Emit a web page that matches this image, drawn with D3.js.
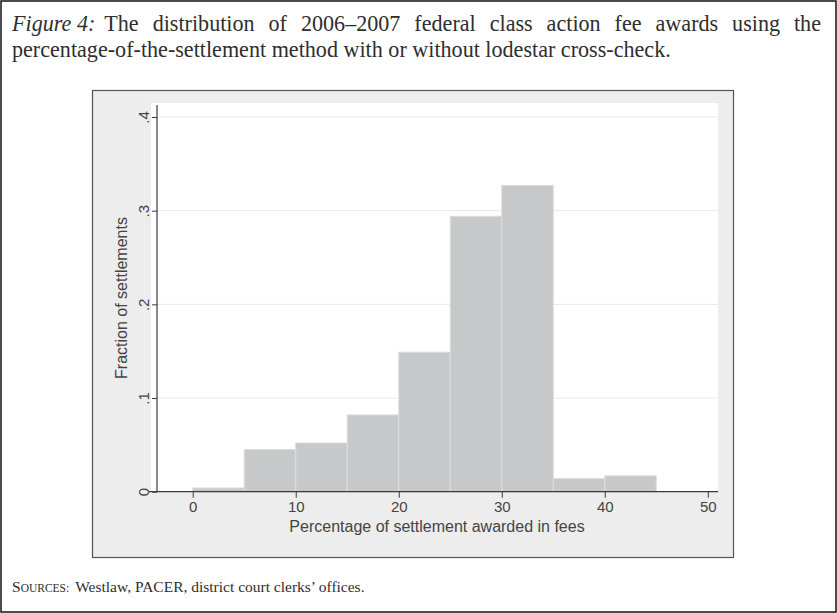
<!doctype html>
<html lang="en">
<head>
<meta charset="utf-8">
<script src="https://d3js.org/d3.v7.min.js"></script>
<title>Figure 4</title>
<style>
    body { margin: 0; background: white; }
    svg { display: block; }
</style>
</head>
<body>
<svg id="svg" width="837" height="613"></svg>
<script>
    // histogram: bins of 5 percentage points, fraction of settlements in each
    let binStarts = [0, 5, 10, 15, 20, 25, 30, 35, 40];
    let binWidth = 5;
    let fractions = [0.004, 0.045, 0.052, 0.082, 0.149, 0.294, 0.327, 0.014, 0.017];
    let xTicks = [0, 10, 20, 30, 40, 50];
    let yTicks = [0, 0.1, 0.2, 0.3, 0.4];

    let titleLead = "Figure 4:";
    let titleLine1 = "The distribution of 2006\u20132007 federal class action fee awards using the";
    let titleLine2 = "percentage-of-the-settlement method with or without lodestar cross-check.";
    let xTitle = "Percentage of settlement awarded in fees";
    let yTitle = "Fraction of settlements";
    let sourcesText = "Westlaw, PACER, district court clerks\u2019 offices.";

    let svg = d3.select("#svg");
    let serif = "'Liberation Serif', 'Times New Roman', serif";
    let sans = "'Liberation Sans', Arial, Helvetica, sans-serif";
    let ink = "#2e2e2e";

    // outer page frame
    svg.append("rect")
        .attr("x", 1).attr("y", 1).attr("width", 835).attr("height", 611)
        .attr("fill", "white").attr("stroke", "#111").attr("stroke-width", 1.5);

    // ---- caption (fit font size to line 2, justify line 1)
    let left = 12, right = 812;
    let probe = svg.append("text").attr("font-family", serif).attr("font-size", 20).text(titleLine2);
    let fs = 20 * 659 / probe.node().getComputedTextLength();
    probe.remove();

    let t1 = svg.append("text")
        .attr("x", left).attr("y", 31)
        .attr("font-family", serif).attr("font-size", fs).attr("fill", ink);
    t1.append("tspan").attr("font-style", "italic").text(titleLead);
    let rest = t1.append("tspan").attr("dx", 9).text(titleLine1);
    let natural = t1.node().getComputedTextLength();
    let nSpaces = titleLine1.split(" ").length - 1;
    rest.style("word-spacing", ((right - left - natural) / nSpaces) + "px");

    svg.append("text")
        .attr("x", left).attr("y", 57)
        .attr("font-family", serif).attr("font-size", fs).attr("fill", ink)
        .text(titleLine2);

    // ---- graph region (Stata style)
    svg.append("rect")
        .attr("x", 92.5).attr("y", 90.5).attr("width", 641).attr("height", 467)
        .attr("fill", "#ededed").attr("stroke", "#555").attr("stroke-width", 1.2);

    let plot = { left: 151, right: 718, top: 103, bottom: 492 };
    svg.append("rect")
        .attr("x", plot.left).attr("y", plot.top)
        .attr("width", plot.right - plot.left).attr("height", plot.bottom - plot.top)
        .attr("fill", "white");

    let xScale = d3.scaleLinear().domain([0, 50]).range([192.7, 707.8]);
    let yScale = d3.scaleLinear().domain([0, 0.4]).range([491.7, 117]);
    let axisX = 157;

    // gridlines
    svg.append("g").selectAll("line")
        .data(yTicks.slice(1))
        .join("line")
        .attr("x1", axisX).attr("x2", plot.right)
        .attr("y1", d => yScale(d)).attr("y2", d => yScale(d))
        .attr("stroke", "#e8e8e8").attr("stroke-width", 1);

    // bars
    svg.append("g").selectAll("rect")
        .data(binStarts)
        .join("rect")
        .attr("x", d => xScale(d))
        .attr("width", d => xScale(d + binWidth) - xScale(d))
        .attr("y", (d, i) => yScale(fractions[i]))
        .attr("height", (d, i) => yScale(0) - yScale(fractions[i]))
        .attr("fill", "#c6c8ca")
        .attr("stroke", "#dcdddf")
        .attr("stroke-width", 1);

    // axes
    let xAxis = svg.append("g")
        .attr("transform", `translate(0, ${yScale(0)})`)
        .style("color", "#3a3a3a")
        .call(d3.axisBottom(xScale).tickValues(xTicks).tickSize(6).tickPadding(4));
    xAxis.select(".domain").remove();
    xAxis.selectAll("text").attr("font-family", sans).attr("font-size", 15).attr("fill", "#444");

    let yFmt = d => d === 0 ? "0" : d3.format(".1f")(d).slice(1);
    let yAxis = svg.append("g")
        .attr("transform", `translate(${axisX}, 0)`)
        .style("color", "#3a3a3a")
        .call(d3.axisLeft(yScale).tickValues(yTicks).tickSize(5).tickFormat(yFmt));
    yAxis.select(".domain").remove();
    yAxis.selectAll("text")
        .attr("x", 0).attr("dy", null)
        .attr("text-anchor", "middle")
        .attr("transform", "translate(-8, 0) rotate(-90)")
        .attr("font-family", sans).attr("font-size", 15).attr("fill", "#444");

    svg.append("line")
        .attr("x1", 149).attr("x2", plot.right)
        .attr("y1", yScale(0)).attr("y2", yScale(0))
        .attr("stroke", "#3a3a3a").attr("stroke-width", 1.2);
    svg.append("line")
        .attr("x1", axisX).attr("x2", axisX)
        .attr("y1", 105).attr("y2", yScale(0))
        .attr("stroke", "#3a3a3a").attr("stroke-width", 1.2);

    // axis titles
    svg.append("text")
        .attr("x", 437).attr("y", 532)
        .attr("text-anchor", "middle")
        .attr("font-family", sans).attr("font-size", 16).attr("fill", "#444")
        .text(xTitle);
    svg.append("text")
        .attr("transform", "translate(127, 298) rotate(-90)")
        .attr("text-anchor", "middle")
        .attr("font-family", sans).attr("font-size", 16).attr("fill", "#444")
        .text(yTitle);

    // sources note
    let src = svg.append("text")
        .attr("x", left).attr("y", 592)
        .attr("font-family", serif).attr("font-size", 15.5).attr("fill", ink);
    src.append("tspan").text("S");
    src.append("tspan").attr("font-size", 11.5).text("OURCES:");
    src.append("tspan").attr("dx", 6).text(sourcesText);
</script>
</body>
</html>
